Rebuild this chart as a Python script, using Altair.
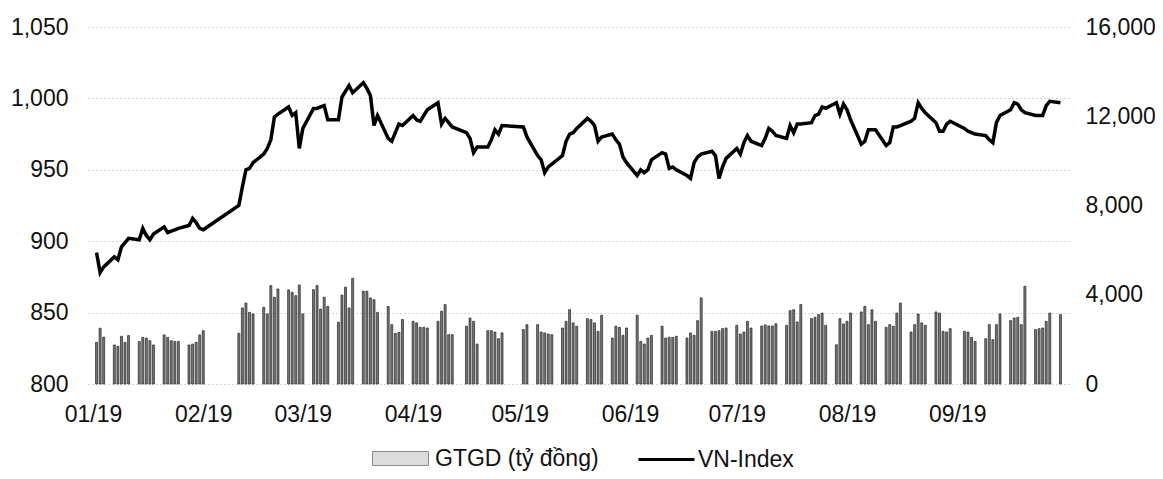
import altair as alt
import pandas as pd

# trading calendar (HOSE) Jan 2 - Sep 30, 2019
holidays = ["2019-02-04", "2019-02-05", "2019-02-06", "2019-02-07", "2019-02-08",
            "2019-04-15", "2019-04-29", "2019-04-30", "2019-05-01", "2019-09-02"]
dates = [d.strftime("%Y-%m-%d") for d in pd.bdate_range("2019-01-02", "2019-09-30")
         if d.strftime("%Y-%m-%d") not in holidays]

# VN-Index (left axis)
vn_index = [
    892, 878, 882, 889, 887, 896, 899, 902, 901, 909, 904, 901, 905, 910, 906, 907, 908, 909, 911, 916, 913, 909,  # Jan
    908, 925, 938, 950, 951, 955, 961, 965, 971, 987, 989, 994, 988, 990, 965,  # Feb
    979, 993, 993, 994, 995, 985, 985, 1001, 1005, 1009, 1004, 1011, 1007, 1002, 981, 988, 972, 970, 976, 982, 981,  # Mar
    988, 985, 984, 988, 992, 997, 982, 986, 983, 980, 976, 972, 962, 966, 966, 971, 978, 975, 981,  # Apr
    980, 973, 960, 957, 948, 952, 954, 960, 970, 975, 976, 979, 986, 984, 981, 970, 973, 975, 971, 968, 959, 955,  # May
    946, 950, 948, 950, 957, 962, 961, 951, 952, 950, 946, 944, 955, 959, 961, 963, 960, 944, 952, 958,  # Jun
    965, 961, 969, 974, 970, 967, 972, 979, 977, 974, 972, 981, 976, 982, 982, 983, 988, 989, 994, 993, 997, 989, 996,  # Jul
    992, 985, 968, 970, 978, 978, 978, 967, 969, 980, 980, 981, 984, 986, 997, 993, 990, 983, 977, 977, 982, 984,  # Aug
    979, 977, 976, 975, 974, 971, 969, 983, 988, 992, 997, 996, 992, 990, 988, 988, 988, 995, 998, 997,  # Sep
]

# GTGD - trading value, billion VND (right axis)
gtgd = [
    1870, 2500, 2100,
    1750, 1690, 2140, 1870, 2170,
    1900, 2090, 2060, 1940, 1750,
    2200, 2090, 1940, 1910, 1910,
    1750, 1790, 1870, 2200, 2390,
    2270, 3410, 3630, 3210, 3140,
    3440, 3140, 4410, 3890, 4260,
    4220, 4110, 3960, 4440, 3140,
    4230, 4410, 3360, 3890, 3480,
    2770, 3990, 4340, 3410, 4740,
    4160, 4160, 3860, 3780, 3210,
    3480, 2660, 2270, 2320, 2890,
    2810, 2740, 2540, 2540, 2510,
    2810, 3260, 3560, 2210, 2210,
    2590, 2960, 2810, 1790,
    2390, 2390, 2330, 2030, 2290,
    2440, 2660,
    2660, 2330, 2290, 2240, 2210,
    2510, 2810, 3330, 2740, 2590,
    2930, 2890, 2740, 2360, 3080,
    2060, 2590, 2540, 2180, 2510,
    3080, 1910, 1790, 2060, 2180,
    2590, 2060, 2090, 2090, 2140,
    2060, 2290, 2180, 2840, 3860,
    2360, 2360, 2390, 2480, 2510,
    2630, 2240, 2330, 2810, 2510,
    2600, 2650, 2600, 2600, 2700,
    2630, 3290, 3330, 2780, 3560,
    2930, 2990, 3110, 3180, 2630,
    1760, 2930, 2690, 2810, 3180,
    3230, 3480, 2660, 3330, 2810,
    2540, 2660, 2590, 3180, 3630,
    2330, 2660, 3140, 2740, 2630,
    3230, 3180, 2360, 2330, 2480,
    2360, 2330, 2090, 1910,
    2030, 2660, 1990, 2660, 3140,
    2840, 2960, 2990, 2660, 4380,
    2440, 2480, 2510, 2810, 3180,
    3110,
]

left_ticks = [800, 850, 900, 950, 1000, 1050]
right_ticks = [0, 4000, 8000, 12000, 16000]
months = list(range(1, 10))

df = pd.DataFrame({
    "date": dates,
    "vn": vn_index,
    "gtgd": gtgd,
    "s_bar": "GTGD (tỷ đồng)",
    "s_line": "VN-Index",
})

FONT = "Liberation Sans"
TXT = "#111111"

x_enc = alt.X(
    "date:T",
    title=None,
    scale=alt.Scale(type="utc",
                    domain=[alt.DateTime(year=2019, month=1, date=1, utc=True),
                            alt.DateTime(year=2019, month=10, date=1, utc=True)]),
    axis=alt.Axis(values=[alt.DateTime(year=2019, month=m, date=1, utc=True) for m in months],
                  format="%m/%y", domain=False, ticks=False, tickSize=0, grid=False,
                  labelPadding=19, labelFontSize=23, labelFont=FONT, labelColor=TXT),
)

y_bar = alt.Y("gtgd:Q", title=None,
              scale=alt.Scale(domain=[0, 16000], nice=False),
              axis=alt.Axis(orient="right", values=right_ticks, format=",.0f", grid=False,
                            domain=False, ticks=False, tickSize=0, labelPadding=16,
                            labelFontSize=23, labelFont=FONT, labelColor=TXT))

bars = alt.Chart(df).mark_bar(width=2, fill="#767676", stroke="#262626", strokeWidth=0.7).encode(
    x=x_enc,
    y=y_bar,
)

# legend-only layer for the bar series (invisible marks, visible legend symbol)
bar_key = alt.Chart(df).mark_bar(width=2, opacity=0).encode(
    x=x_enc,
    y=y_bar,
    color=alt.Color("s_bar:N",
                    scale=alt.Scale(range=["#dcdcdc"]),
                    legend=alt.Legend(title=None, orient="none", legendX=284, legendY=403,
                                      symbolType="M-1,-0.25H1V0.25H-1Z", symbolSize=3136,
                                      symbolOpacity=1,
                                      symbolStrokeColor="#8a8a8a", symbolStrokeWidth=1,
                                      labelFontSize=23, labelFont=FONT, labelColor=TXT,
                                      labelOffset=6, labelLimit=0)),
)

line = alt.Chart(df).mark_line(strokeWidth=3.5, color="black").encode(
    x=x_enc,
    y=alt.Y("vn:Q", title=None,
            scale=alt.Scale(domain=[800, 1050], nice=False),
            axis=alt.Axis(orient="left", values=left_ticks, format=",.0f", grid=True,
                          gridDash=[1, 3], gridColor="#aaaaaa", gridWidth=1,
                          domain=False, ticks=False, tickSize=0, labelPadding=20,
                          labelFontSize=23, labelFont=FONT, labelColor=TXT)),
    color=alt.Color("s_line:N",
                    scale=alt.Scale(range=["black"]),
                    legend=alt.Legend(title=None, orient="none", legendX=549, legendY=403,
                                      symbolType="stroke", symbolSize=3136,
                                      symbolStrokeWidth=3,
                                      labelFontSize=23, labelFont=FONT, labelColor=TXT,
                                      labelOffset=2, labelLimit=0)),
)

bar_layer = alt.layer(bars, bar_key)

chart = alt.layer(bar_layer, line).resolve_scale(y="independent", color="independent").properties(
    width=981, height=357,
    autosize=alt.AutoSizeParams(type="none"),
    padding={"left": 80, "top": 19, "right": 86, "bottom": 87},
    background="white",
).configure_view(stroke=None)

chart.save("out.html", embed_options={"renderer": "svg", "actions": False})
